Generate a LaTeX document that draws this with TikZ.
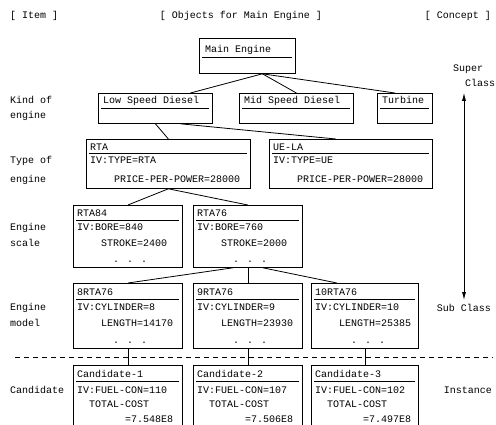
\documentclass[tikz,border=0pt]{standalone}
\usepackage{fontspec}
\setmainfont{Liberation Mono}
\usetikzlibrary{positioning, arrows.meta}

\begin{document}
\begin{tikzpicture}[
    x=1pt, y=-1pt,
    every node/.style={inner sep=0pt, font=\fontsize{10}{16}\selectfont},
    obj/.style={draw, line width=0.8pt, anchor=north west,
      path picture={\draw[line width=0.5pt]
        ([shift={(3pt,-#1)}]path picture bounding box.north west) --
        ([shift={(-3pt,-#1)}]path picture bounding box.north east);}},
    txt/.style={anchor=base west, align=left},
    lbl/.style={anchor=base west, align=left},
    link/.style={line width=0.8pt},
    arr/.style={{Latex[length=8pt,width=4pt]}-{Latex[length=8pt,width=4pt]}, line width=0.8pt},
    divider/.style={line width=0.8pt, dash pattern=on 5pt off 4pt},
  ]
    \useasboundingbox (0,0) rectangle (496,424);

    % column heads
    \node[lbl] (item) at (10,18.5) {[ Item ]};
    \node[anchor=base] (objs) at (241,18.5) {[ Objects for Main Engine ]};
    \node[anchor=base east] (concept) at (491,18.5) {[ Concept ]};

    % item labels (base = last line)
    \node[lbl] (kind)  at (10,118.5) {Kind of\\[-1pt]engine};
    \node[lbl] (type)  at (10,182.5) {Type of\\[3pt]engine};
    \node[lbl] (scale) at (10,246.5) {Engine\\scale};
    \node[lbl] (model) at (10,326.5) {Engine\\model};
    \node[lbl] (cand)  at (10,393.5) {Candidate};

    % concept labels
    \node[lbl] (sup) at (453,86.5) {Super\\[-1pt]\hspace*{12pt}Class};
    \node[anchor=base] (sub) at (464,311.5) {Sub Class};
    \node[anchor=base east] (inst) at (492,393.5) {Instance};

    % super class
    \node[obj=19pt, minimum width=96pt, minimum height=35pt] (main) at (199,38) {};
    \node[txt] (main-t) at ([shift={(6pt,-14pt)}]main.north west) {Main Engine};

    % kind of engine
    \node[obj=15pt, minimum width=114pt, minimum height=30pt] (lsd) at (98,93) {};
    \node[txt] (lsd-t) at ([shift={(5pt,-10.5pt)}]lsd.north west) {Low Speed Diesel};
    \node[obj=15pt, minimum width=114pt, minimum height=30pt] (msd) at (239,93) {};
    \node[txt] (msd-t) at ([shift={(5pt,-10.5pt)}]msd.north west) {Mid Speed Diesel};
    \node[obj=15pt, minimum width=55pt, minimum height=30pt] (tur) at (377,93) {};
    \node[txt] (tur-t) at ([shift={(5pt,-10.5pt)}]tur.north west) {Turbine};

    % type of engine
    \node[obj=14pt, minimum width=164pt, minimum height=49pt] (rta) at (86,139) {};
    \node[txt] (rta-t) at ([shift={(4pt,-11.5pt)}]rta.north west) {RTA};
    \node[txt] (rta-b) at ([shift={(4pt,-43.5pt)}]rta.north west)
      {IV:TYPE=RTA\\[3pt]\hspace*{24pt}PRICE-PER-POWER=28000};
    \node[obj=14pt, minimum width=163pt, minimum height=49pt] (uela) at (269,139) {};
    \node[txt] (uela-t) at ([shift={(4pt,-11.5pt)}]uela.north west) {UE-LA};
    \node[txt] (uela-b) at ([shift={(4pt,-43.5pt)}]uela.north west)
      {IV:TYPE=UE\\[3pt]\hspace*{24pt}PRICE-PER-POWER=28000};

    % engine scale
    \node[obj=15pt, minimum width=109pt, minimum height=62pt] (r84) at (73,205) {};
    \node[txt] (r84-t) at ([shift={(4pt,-11.5pt)}]r84.north west) {RTA84};
    \node[txt] (r84-b) at ([shift={(4pt,-57.5pt)}]r84.north west)
      {IV:BORE=840\\\hspace*{24pt}STROKE=2400\\\hspace*{36pt}. . .};
    \node[obj=15pt, minimum width=109pt, minimum height=62pt] (r76) at (193,205) {};
    \node[txt] (r76-t) at ([shift={(4pt,-11.5pt)}]r76.north west) {RTA76};
    \node[txt] (r76-b) at ([shift={(4pt,-57.5pt)}]r76.north west)
      {IV:BORE=760\\\hspace*{24pt}STROKE=2000\\\hspace*{36pt}. . .};

    % engine model
    \node[obj=16pt, minimum width=109pt, minimum height=65pt] (m8) at (73,283) {};
    \node[txt] (m8-t) at ([shift={(4pt,-12.5pt)}]m8.north west) {8RTA76};
    \node[txt] (m8-b) at ([shift={(4pt,-60.5pt)}]m8.north west)
      {IV:CYLINDER=8\\\hspace*{24pt}LENGTH=14170\\[1pt]\hspace*{36pt}. . .};
    \node[obj=16pt, minimum width=109pt, minimum height=65pt] (m9) at (193,283) {};
    \node[txt] (m9-t) at ([shift={(4pt,-12.5pt)}]m9.north west) {9RTA76};
    \node[txt] (m9-b) at ([shift={(4pt,-60.5pt)}]m9.north west)
      {IV:CYLINDER=9\\\hspace*{24pt}LENGTH=23930\\[1pt]\hspace*{36pt}. . .};
    \node[obj=16pt, minimum width=107pt, minimum height=65pt] (m10) at (311,283) {};
    \node[txt] (m10-t) at ([shift={(4pt,-12.5pt)}]m10.north west) {10RTA76};
    \node[txt] (m10-b) at ([shift={(4pt,-60.5pt)}]m10.north west)
      {IV:CYLINDER=10\\\hspace*{24pt}LENGTH=25385\\[1pt]\hspace*{36pt}. . .};

    % class / instance border
    \coordinate (dl) at (15,357);
    \coordinate (dr) at (493,357);
    \draw[divider] (dl) -- (dr);

    % candidates
    \node[obj=16pt, minimum width=109pt, minimum height=75pt] (c1) at (73,365) {};
    \node[txt] (c1-t) at ([shift={(4pt,-12.5pt)}]c1.north west) {Candidate-1};
    \node[txt] (c1-b) at ([shift={(4pt,-57pt)}]c1.north west)
      {IV:FUEL-CON=110\\[-1.5pt]\hspace*{12pt}TOTAL-COST\\[-1.5pt]\hspace*{48pt}=7.548E8};
    \node[obj=16pt, minimum width=109pt, minimum height=75pt] (c2) at (193,365) {};
    \node[txt] (c2-t) at ([shift={(4pt,-12.5pt)}]c2.north west) {Candidate-2};
    \node[txt] (c2-b) at ([shift={(4pt,-57pt)}]c2.north west)
      {IV:FUEL-CON=107\\[-1.5pt]\hspace*{12pt}TOTAL-COST\\[-1.5pt]\hspace*{48pt}=7.506E8};
    \node[obj=16pt, minimum width=107pt, minimum height=75pt] (c3) at (311,365) {};
    \node[txt] (c3-t) at ([shift={(4pt,-12.5pt)}]c3.north west) {Candidate-3};
    \node[txt] (c3-b) at ([shift={(4pt,-57pt)}]c3.north west)
      {IV:FUEL-CON=102\\[-1.5pt]\hspace*{12pt}TOTAL-COST\\[-1.5pt]\hspace*{48pt}=7.497E8};

    % tree links
    \draw[link] ([xshift=15pt]main.south) -- ([xshift=35pt]lsd.north);
    \draw[link] ([xshift=15pt]main.south) -- (msd.north);
    \draw[link] ([xshift=15pt]main.south) -- ([xshift=-10pt]tur.north);
    \draw[link] (lsd.south) -- (rta.north);
    \draw[link] ([xshift=25pt]lsd.south) -- ([xshift=-15pt]uela.north);
    \draw[link] (rta.south) -- (r84.north);
    \draw[link] (rta.south) -- (r76.north);
    \draw[link] ([xshift=-15pt]r76.south) -- (m8.north);
    \draw[link] (r76.south) -- (m9.north);
    \draw[link] ([xshift=15pt]r76.south) -- ([xshift=-28pt]m10.north);
    \draw[link] (m8.south) -- (c1.north);
    \draw[link] (m9.south) -- (c2.north);
    \draw[link] (m10.south) -- (c3.north);

    % super / sub class arrow
    \coordinate (atop) at (sub.north |- sup.south);
    \draw[arr, shorten <=6pt, shorten >=4pt] (atop) -- (sub.north);
\end{tikzpicture}
\end{document}
